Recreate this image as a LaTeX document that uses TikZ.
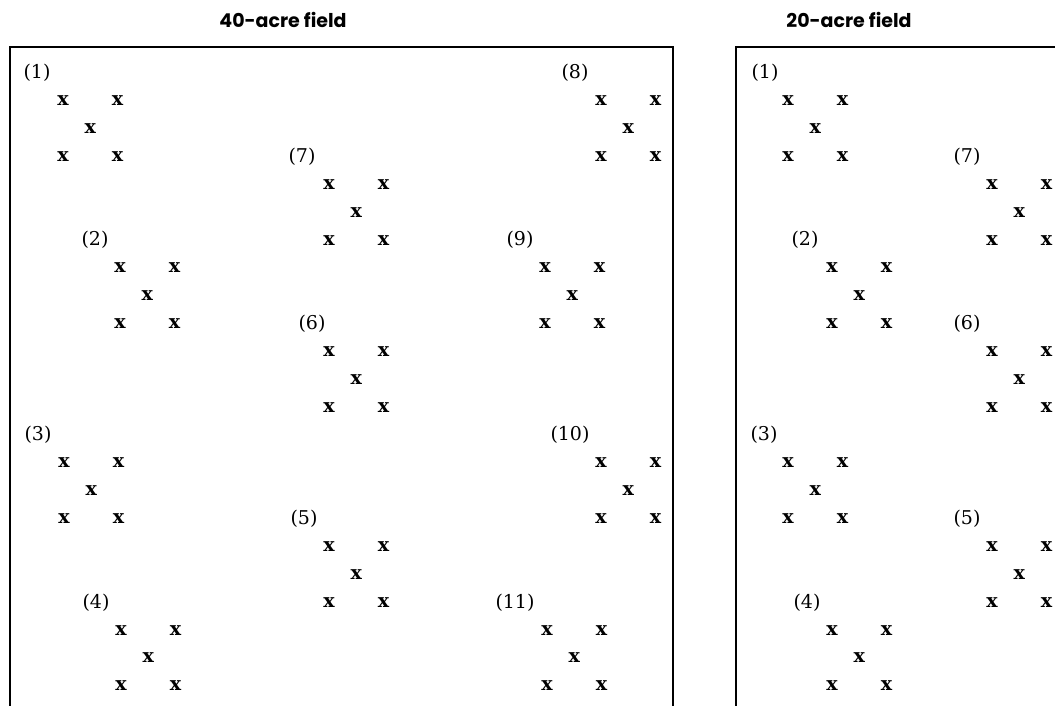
\documentclass[tikz,border=0pt]{standalone}
\usepackage{fontspec}
\setmainfont{DejaVu Serif}
\newfontfamily\titlefont{Poppins}
\begin{document}
\begin{tikzpicture}[
    x=1pt, y=-1pt,
    field/.style={draw, line width=1.6pt},
    fieldtitle/.style={font=\titlefont\bfseries\fontsize{19}{22}\selectfont, anchor=base, inner sep=0pt},
    plotlabel/.style={font=\fontsize{19}{20}\selectfont, inner sep=0pt},
    plant/.style={font=\bfseries\fontsize{19}{20}\selectfont, inner sep=0pt}
]
    \useasboundingbox (0,0) rectangle (1055,706);

    % Titles
    \node[fieldtitle] (title40) at (283,28) {40-acre field};
    \node[fieldtitle] (title20) at (849,28) {20-acre field};

    % Field borders
    \draw[field] (10,706) |- (673,47) -- (673,706);
    \draw[field] (736,706) |- (1055,47);

    % Sample plots: name/label/label x/row/first plant x
    \foreach \name/\lab/\lx/\r/\xo in {
        a1/1/37/0/63, a8/8/575/0/601, a7/7/302/3/329, a2/2/95/6/120,
        a9/9/520/6/545, a6/6/312/9/329, a3/3/38/13/64, a10/10/570/13/601,
        a5/5/304/16/329, a4/4/96/19/121, a11/11/515/19/547,
        b1/1/765/0/788, b7/7/967/3/992, b2/2/805/6/832, b6/6/967/9/992,
        b3/3/764/13/788, b5/5/967/16/992, b4/4/807/19/832}{
        \pgfmathsetmacro{\ly}{73+27.86*\r}
        \node[plotlabel] (\name) at (\lx,\ly) {(\lab)};
        \node[plant] (\name-1) at (\xo,\ly+27.86) {x};
        \node[plant] (\name-2) at (\xo+54.5,\ly+27.86) {x};
        \node[plant] (\name-3) at (\xo+27.2,\ly+55.72) {x};
        \node[plant] (\name-4) at (\xo,\ly+83.58) {x};
        \node[plant] (\name-5) at (\xo+54.5,\ly+83.58) {x};
    }

\end{tikzpicture}
\end{document}
